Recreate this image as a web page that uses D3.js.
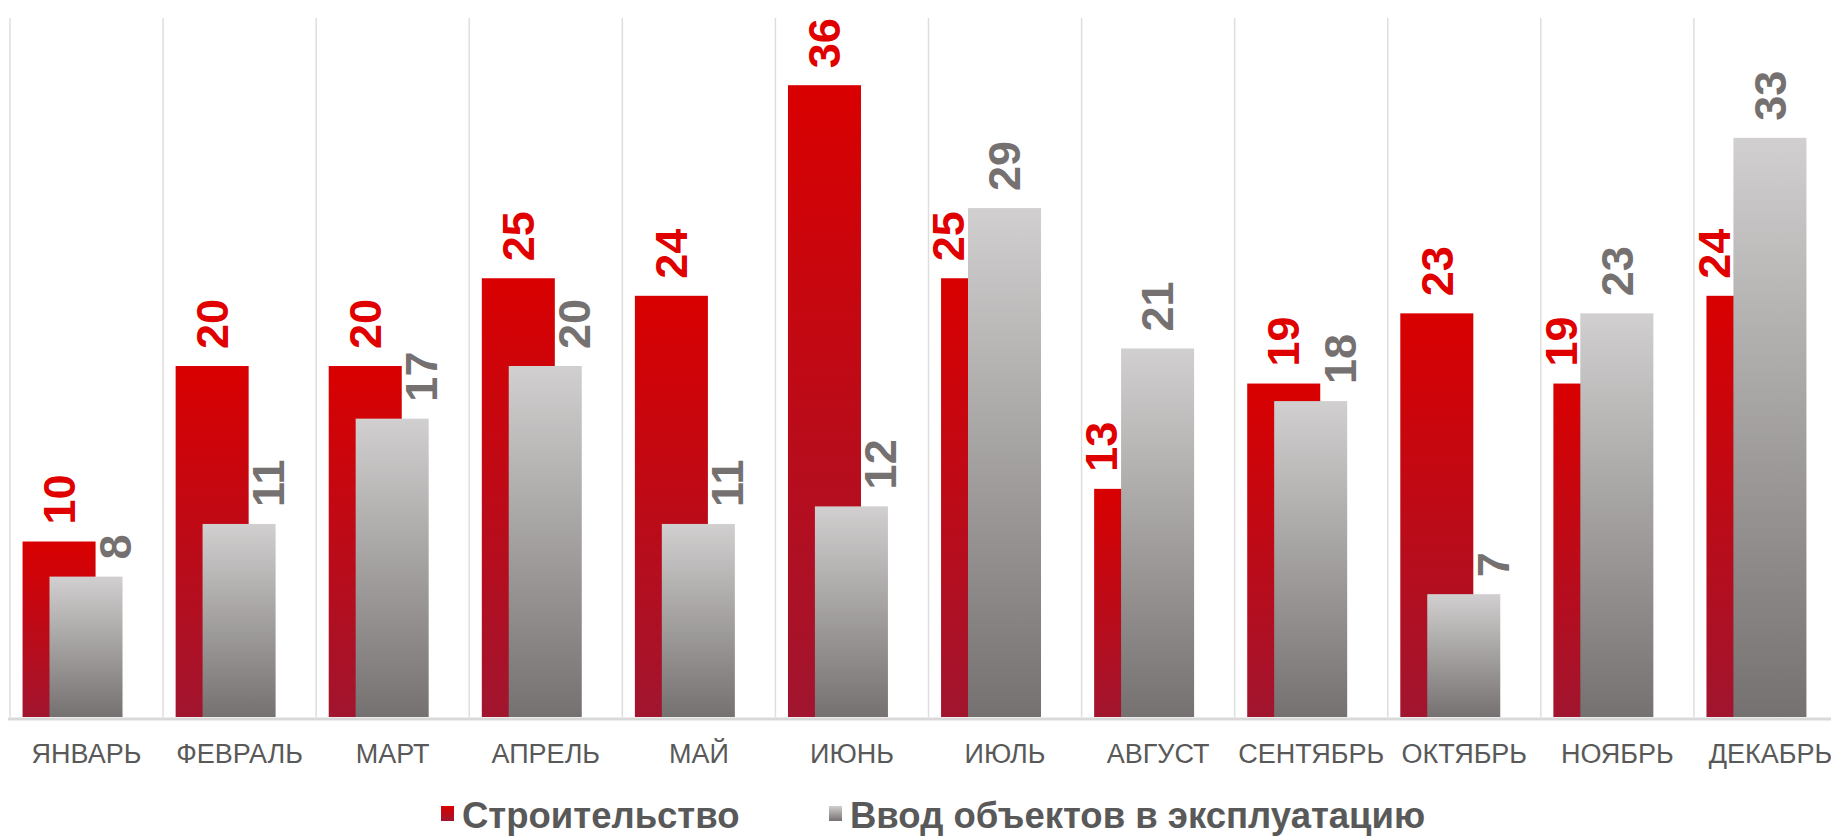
<!DOCTYPE html>
<html>
<head>
<meta charset="utf-8">
<script src="https://cdn.jsdelivr.net/npm/d3@7"></script>
<style>
    body { margin: 0; background: #fff; }
    svg { display: block; }
</style>
</head>
<body>
<div id="chart"></div>
<script>
// Months (x categories)
const months = ['ЯНВАРЬ', 'ФЕВРАЛЬ', 'МАРТ', 'АПРЕЛЬ', 'МАЙ', 'ИЮНЬ', 'ИЮЛЬ',
    'АВГУСТ', 'СЕНТЯБРЬ', 'ОКТЯБРЬ', 'НОЯБРЬ', 'ДЕКАБРЬ'];

// Series values
const construction = [10, 20, 20, 25, 24, 36, 25, 13, 19, 23, 19, 24];
const commissioning = [8, 11, 17, 20, 11, 12, 29, 21, 18, 7, 23, 33];

const seriesNames = ['Строительство', 'Ввод объектов в эксплуатацию'];

const W = 1831, H = 836;

// plot area (the last category runs past the right edge, as in the original)
const plot = { left: 10, right: 1847, top: 15, bottom: 717 };

const svg = d3.select('#chart')
    .append('svg')
    .attr('width', W)
    .attr('height', H)
    .style('font-family', '"Liberation Sans", Arial, sans-serif');

// Gradients
const defs = svg.append('defs');
function addGradient(id, top, bottom) {
    const g = defs.append('linearGradient')
        .attr('id', id)
        .attr('x1', 0).attr('y1', 0)
        .attr('x2', 0).attr('y2', 1);
    g.append('stop').attr('offset', '0%').attr('stop-color', top);
    g.append('stop').attr('offset', '100%').attr('stop-color', bottom);
}
addGradient('gradRed', '#d90000', '#a1152f');
addGradient('gradGray', '#d1cfcf', '#767171');

// Scales
const xScale = d3.scaleBand()
    .domain(months)
    .range([plot.left, plot.right])
    .paddingInner(0)
    .paddingOuter(0);

const yScale = d3.scaleLinear()
    .domain([0, 40])
    .range([plot.bottom, plot.top]);

const bw = xScale.bandwidth();
const barW = bw * 0.477;

// Vertical gridlines at category boundaries
const boundaries = months.map(m => xScale(m));
svg.append('g')
    .selectAll('line')
    .data(boundaries)
    .enter()
    .append('line')
    .attr('x1', d => d)
    .attr('x2', d => d)
    .attr('y1', 18)
    .attr('y2', plot.bottom)
    .attr('stroke', '#dedede')
    .attr('stroke-width', 1.5);

const series = [
    { name: seriesNames[0], values: construction, other: commissioning, off: 0.082, fill: 'url(#gradRed)', label: '#e00000', shift: -1 },
    { name: seriesNames[1], values: commissioning, other: construction, off: 0.258, fill: 'url(#gradGray)', label: '#767171', shift: 1 }
];

// Bars
series.forEach(s => {
    svg.append('g')
        .selectAll('rect')
        .data(s.values)
        .enter()
        .append('rect')
        .attr('x', (d, i) => xScale(months[i]) + bw * s.off)
        .attr('y', d => yScale(d))
        .attr('width', barW)
        .attr('height', d => yScale(0) - yScale(d))
        .attr('fill', s.fill);
});

// Bottom axis line
svg.append('line')
    .attr('x1', plot.left - 2)
    .attr('x2', W)
    .attr('y1', plot.bottom + 2)
    .attr('y2', plot.bottom + 2)
    .attr('stroke', '#d9d9d9')
    .attr('stroke-width', 3);

// Data labels (rotated); shorter bar's label is nudged away from the taller neighbour
series.forEach(s => {
    svg.append('g')
        .selectAll('text')
        .data(s.values)
        .enter()
        .append('text')
        .attr('transform', (d, i) => {
            let cx = xScale(months[i]) + bw * s.off + barW / 2;
            if (d < s.other[i]) cx += s.shift * bw * 0.19;
            return `translate(${cx},${yScale(d) - 17}) rotate(-90)`;
        })
        .attr('dy', '0.35em')
        .attr('text-anchor', 'start')
        .style('font-size', '45px')
        .style('font-weight', 'bold')
        .attr('fill', s.label)
        .text(d => d);
});

// Month labels
svg.append('g')
    .selectAll('text')
    .data(months)
    .enter()
    .append('text')
    .attr('x', d => xScale(d) + bw / 2)
    .attr('y', 763)
    .attr('text-anchor', 'middle')
    .style('font-size', '27px')
    .attr('fill', '#595959')
    .text(d => d);

// Legend
const legendItems = [
    { name: seriesNames[0], fill: 'url(#gradRed)', x: 441 },
    { name: seriesNames[1], fill: 'url(#gradGray)', x: 829 }
];
legendItems.forEach(item => {
    const row = svg.append('g')
        .attr('transform', `translate(${item.x}, 806)`);
    row.append('rect')
        .attr('width', 13)
        .attr('height', 15)
        .attr('fill', item.fill);
    row.append('text')
        .attr('x', 21)
        .attr('y', 22)
        .style('font-size', '36.5px')
        .style('font-weight', 'bold')
        .attr('fill', '#595959')
        .text(item.name);
});
</script>
</body>
</html>
